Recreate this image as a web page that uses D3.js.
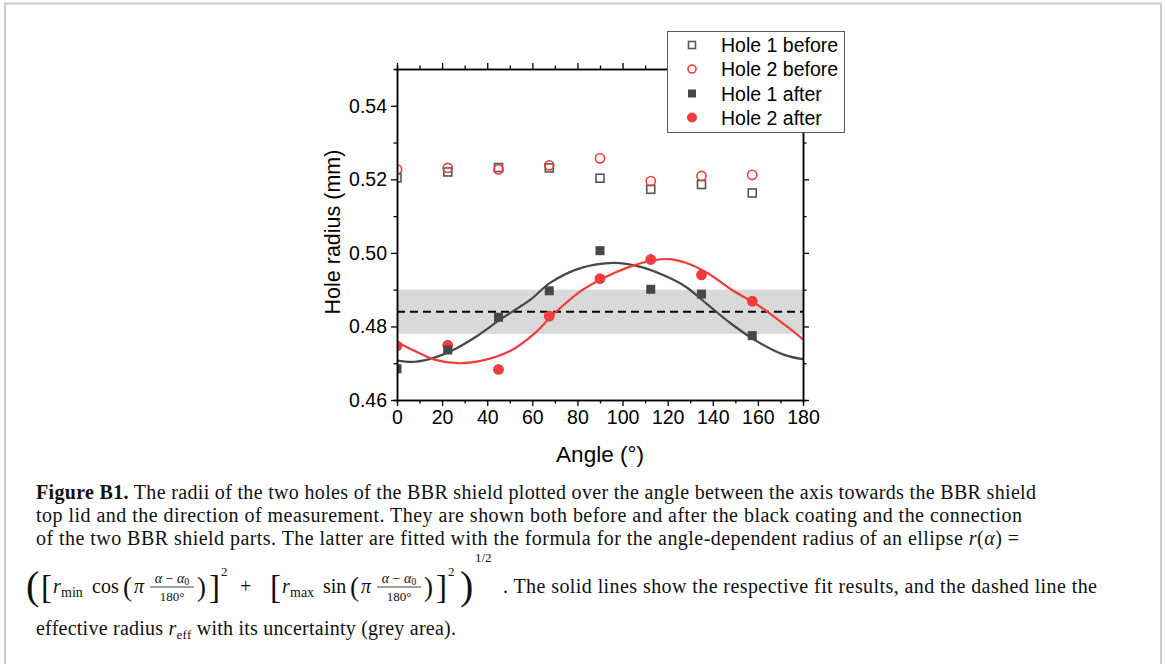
<!DOCTYPE html>
<meta charset="utf-8">
<script src="https://cdn.jsdelivr.net/npm/d3@7"></script>
<style>body{margin:0;background:#fff}</style>
<div id="my_dataviz"></div>
<script>

// measured angles and radii (mm)
var angles      = [0, 22.5, 45, 67.5, 90, 112.5, 135, 157.5];
var hole1Before = [0.5204, 0.5220, 0.5232, 0.5231, 0.5203, 0.5173, 0.5186, 0.5163];
var hole2Before = [0.5227, 0.5231, 0.5227, 0.5238, 0.5257, 0.5195, 0.5209, 0.5212];
var hole1After  = [0.4685, 0.4736, 0.4825, 0.4897, 0.5006, 0.4901, 0.4888, 0.4775];
var hole2After  = [0.4747, 0.4749, 0.4683, 0.4828, 0.4930, 0.4982, 0.4940, 0.4869];

// fit curves
var fit1Angle  = [0, 8, 17, 24, 35, 46, 59, 68, 81, 96, 108, 119, 128, 138, 148, 160, 172, 180];
var fit1Radius = [0.4707, 0.4704, 0.4716, 0.4733, 0.4772, 0.4820, 0.4872, 0.4919, 0.4958, 0.4973,
                  0.4962, 0.4937, 0.4908, 0.4858, 0.4808, 0.4758, 0.4722, 0.4711];
var fit2Angle  = [0, 8, 17, 27, 39, 51, 61, 69, 81, 92, 103, 114, 121, 128, 138, 148, 160, 172, 180];
var fit2Radius = [0.4758, 0.4733, 0.4709, 0.4700, 0.4709, 0.4736, 0.4781, 0.4831, 0.4894, 0.4933,
                  0.4962, 0.4980, 0.4983, 0.4973, 0.4944, 0.4901, 0.4858, 0.4804, 0.4765];

// effective radius and its uncertainty
var rEff = 0.484, rEffLow = 0.478, rEffHigh = 0.490;

var xTickValues = [0, 20, 40, 60, 80, 100, 120, 140, 160, 180];
var xMinorTicks = [10, 30, 50, 70, 90, 110, 130, 150, 170];
var yTickValues = [0.46, 0.48, 0.50, 0.52, 0.54];
var yMinorTicks = [0.47, 0.49, 0.51, 0.53];
var legendLabels = ["Hole 1 before", "Hole 2 before", "Hole 1 after", "Hole 2 after"];

var grey = "#474747", red = "#f03c3c";

var svg = d3.select("#my_dataviz")
  .append("svg")
    .attr("width", 1165)
    .attr("height", 664);

// figure frame
svg.append("rect")
  .attr("x", 5).attr("y", 3.5).attr("width", 1156).attr("height", 700)
  .attr("fill", "none").attr("stroke", "#cccccc").attr("stroke-width", 2);

var x = d3.scaleLinear().domain([0, 180]).range([397, 803]);
var y = d3.scaleLinear().domain([0.46, 0.55]).range([400, 69]);

svg.append("clipPath").attr("id", "plotclip")
  .append("rect")
    .attr("x", x(0)).attr("y", y(0.55))
    .attr("width", x(180) - x(0)).attr("height", y(0.46) - y(0.55));

var plot = svg.append("g").attr("clip-path", "url(#plotclip)");

// grey uncertainty band + dashed line
plot.append("rect")
  .attr("x", x(0)).attr("width", x(180) - x(0))
  .attr("y", y(rEffHigh)).attr("height", y(rEffLow) - y(rEffHigh))
  .attr("fill", "#d9d9d9");
plot.append("line")
  .attr("x1", x(0)).attr("x2", x(180))
  .attr("y1", y(rEff)).attr("y2", y(rEff))
  .attr("stroke", "#000").attr("stroke-width", 2).attr("stroke-dasharray", "8,5");

var line = d3.line()
  .x(function(d) { return x(d[0]); })
  .y(function(d) { return y(d[1]); })
  .curve(d3.curveCatmullRom);

plot.append("path")
  .datum(d3.zip(fit1Angle, fit1Radius))
  .attr("d", line).attr("fill", "none")
  .attr("stroke", grey).attr("stroke-width", 2.2);
plot.append("path")
  .datum(d3.zip(fit2Angle, fit2Radius))
  .attr("d", line).attr("fill", "none")
  .attr("stroke", red).attr("stroke-width", 2.2);

// markers
function squares(g, vals, size, filled) {
  g.selectAll(null)
    .data(d3.zip(angles, vals))
    .enter().append("rect")
      .attr("x", function(d) { return x(d[0]) - size / 2; })
      .attr("y", function(d) { return y(d[1]) - size / 2; })
      .attr("width", size).attr("height", size)
      .attr("fill", filled ? grey : "none")
      .attr("stroke", filled ? "none" : "#555")
      .attr("stroke-width", 1.6);
}
function circles(g, vals, r, filled) {
  g.selectAll(null)
    .data(d3.zip(angles, vals))
    .enter().append("circle")
      .attr("cx", function(d) { return x(d[0]); })
      .attr("cy", function(d) { return y(d[1]); })
      .attr("r", r)
      .attr("fill", filled ? red : "none")
      .attr("stroke", filled ? "none" : red)
      .attr("stroke-width", 1.6);
}
squares(plot, hole1Before, 8, false);
circles(plot, hole2Before, 4.6, false);
circles(plot, hole2After, 5.4, true);
squares(plot, hole1After, 9, true);

// axes
function styleAxis(g) {
  g.selectAll("path.domain").attr("stroke", "#000").attr("stroke-width", 1.5);
  g.selectAll(".tick line").attr("stroke", "#000").attr("stroke-width", 1.3);
  g.selectAll("text").attr("font-family", "Liberation Sans, Arial, sans-serif")
    .attr("font-size", 19.5).attr("fill", "#000");
}
svg.append("g").attr("transform", "translate(0,400)")
  .call(d3.axisBottom(x).tickValues(xTickValues).tickSize(6).tickSizeOuter(0).tickPadding(4))
  .call(styleAxis);
svg.append("g").attr("transform", "translate(0,400)")
  .call(d3.axisBottom(x).tickValues(xMinorTicks).tickSize(3.5).tickFormat(""))
  .call(styleAxis);
svg.append("g").attr("transform", "translate(0,69)")
  .call(d3.axisTop(x).tickValues(xTickValues).tickSize(6).tickSizeOuter(0).tickFormat(""))
  .call(styleAxis);
svg.append("g").attr("transform", "translate(0,69)")
  .call(d3.axisTop(x).tickValues(xMinorTicks).tickSize(3.5).tickFormat(""))
  .call(styleAxis);
svg.append("g").attr("transform", "translate(397,0)")
  .call(d3.axisLeft(y).tickValues(yTickValues).tickSize(6).tickSizeOuter(0).tickPadding(4)
    .tickFormat(d3.format(".2f")))
  .call(styleAxis);
svg.append("g").attr("transform", "translate(397,0)")
  .call(d3.axisLeft(y).tickValues(yMinorTicks).tickSize(3.5).tickFormat(""))
  .call(styleAxis);
svg.append("g").attr("transform", "translate(803,0)")
  .call(d3.axisRight(y).tickValues(yTickValues).tickSize(6).tickSizeOuter(0).tickFormat(""))
  .call(styleAxis);
svg.append("g").attr("transform", "translate(803,0)")
  .call(d3.axisRight(y).tickValues(yMinorTicks).tickSize(3.5).tickFormat(""))
  .call(styleAxis);

// axis titles
svg.append("text")
  .attr("x", 600).attr("y", 462)
  .attr("text-anchor", "middle")
  .attr("font-family", "Liberation Sans, Arial, sans-serif").attr("font-size", 22.5)
  .text("Angle (°)");
svg.append("text")
  .attr("transform", "translate(340,232) rotate(-90)")
  .attr("text-anchor", "middle")
  .attr("font-family", "Liberation Sans, Arial, sans-serif").attr("font-size", 21.5)
  .text("Hole radius (mm)");

// legend
var legend = svg.append("g");
legend.append("rect")
  .attr("x", 667.5).attr("y", 31.5).attr("width", 177).attr("height", 101)
  .attr("fill", "#fff").attr("stroke", "#5a5a5a").attr("stroke-width", 1);
var legY = [45, 69, 93.5, 117.5];
legend.append("rect").attr("x", 688.5).attr("y", legY[0] - 3.5).attr("width", 7).attr("height", 7)
  .attr("fill", "none").attr("stroke", "#555").attr("stroke-width", 1.6);
legend.append("circle").attr("cx", 692).attr("cy", legY[1]).attr("r", 4)
  .attr("fill", "none").attr("stroke", red).attr("stroke-width", 1.6);
legend.append("rect").attr("x", 688).attr("y", legY[2] - 4).attr("width", 8).attr("height", 8)
  .attr("fill", grey);
legend.append("circle").attr("cx", 692).attr("cy", legY[3]).attr("r", 5)
  .attr("fill", red);
legend.selectAll(null)
  .data(legendLabels)
  .enter().append("text")
    .attr("x", 721).attr("y", function(d, i) { return legY[i]; })
    .attr("dy", "0.36em")
    .attr("font-family", "Liberation Sans, Arial, sans-serif").attr("font-size", 19.5)
    .text(function(d) { return d; });

// caption
var cap = svg.append("g")
  .attr("font-family", "Liberation Serif, Times New Roman, serif")
  .attr("font-size", 20).attr("fill", "#111");

var t1 = cap.append("text").attr("x", 36).attr("y", 499).attr("textLength", 1000);
t1.append("tspan").attr("font-weight", "bold").text("Figure B1.");
t1.append("tspan").text(" The radii of the two holes of the BBR shield plotted over the angle between the axis towards the BBR shield");

cap.append("text").attr("x", 36).attr("y", 522).attr("textLength", 986)
  .text("top lid and the direction of measurement. They are shown both before and after the black coating and the connection");

var t3 = cap.append("text").attr("x", 36).attr("y", 545).attr("textLength", 983);
t3.append("tspan").text("of the two BBR shield parts. The latter are fitted with the formula for the angle-dependent radius of an ellipse ");
t3.append("tspan").attr("font-style", "italic").text("r");
t3.append("tspan").text("(");
t3.append("tspan").attr("font-style", "italic").text("α");
t3.append("tspan").text(") =");

// formula row
var yF = 593, fx = 12;
function put(txt, px, py, size, italic) {
  return cap.append("text").attr("x", px + fx).attr("y", py).attr("font-size", size)
    .attr("font-style", italic ? "italic" : null).text(txt);
}
function frac(cx) {
  cx += fx;
  var num = cap.append("text").attr("x", cx).attr("y", yF - 10).attr("font-size", 14)
    .attr("text-anchor", "middle");
  num.append("tspan").attr("font-style", "italic").text("α");
  num.append("tspan").text(" − ");
  num.append("tspan").attr("font-style", "italic").text("α");
  num.append("tspan").attr("font-size", 10).attr("dy", 2).text("0");
  cap.append("text").attr("x", cx).attr("y", yF + 8).attr("font-size", 13)
    .attr("text-anchor", "middle").text("180°");
  cap.append("line").attr("x1", cx - 22).attr("x2", cx + 22)
    .attr("y1", yF - 6).attr("y2", yF - 6).attr("stroke", "#111").attr("stroke-width", 0.8);
}
put("(", 14, yF + 6, 40, false);
put("[", 29, yF + 5, 33, false);
put("r", 41, yF, 20, true);
put("min", 49, yF + 4, 14, false);
put("cos", 80, yF, 20, false);
put("(", 111, yF + 3, 27, false);
put("π", 122, yF, 20, true);
frac(160);
put(")", 185, yF + 3, 27, false);
put("]", 197, yF + 5, 33, false);
put("2", 209, yF - 17, 13, false);
put("+", 228, yF, 20, false);
put("[", 258, yF + 5, 33, false);
put("r", 270, yF, 20, true);
put("max", 278, yF + 4, 14, false);
put("sin", 311, yF, 20, false);
put("(", 338, yF + 3, 27, false);
put("π", 349, yF, 20, true);
frac(387);
put(")", 412, yF + 3, 27, false);
put("]", 424, yF + 5, 33, false);
put("2", 436, yF - 17, 13, false);
put(")", 448, yF + 6, 40, false);
put("1/2", 463, yF - 31, 13, false);
cap.append("text").attr("x", 503).attr("y", yF).attr("textLength", 594)
  .text(". The solid lines show the respective fit results, and the dashed line the");

var t5 = cap.append("text").attr("x", 36).attr("y", 635).attr("textLength", 420);
t5.append("tspan").text("effective radius ");
t5.append("tspan").attr("font-style", "italic").text("r");
t5.append("tspan").attr("font-size", 13).attr("dy", 4).text("eff");
t5.append("tspan").attr("dy", -4).text(" with its uncertainty (grey area).");

</script>
